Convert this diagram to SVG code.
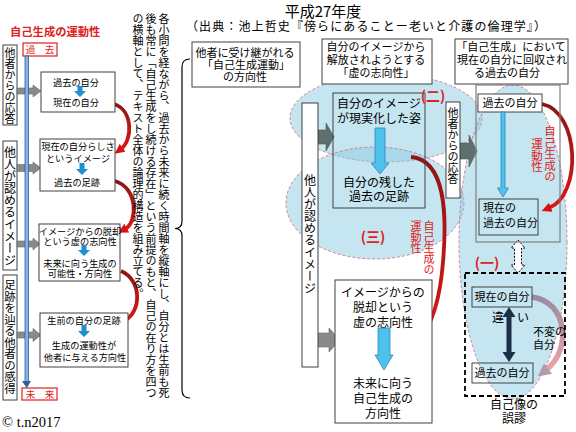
<svg xmlns="http://www.w3.org/2000/svg" width="576" height="432" viewBox="0 0 576 432">
<style>
.t{font-family:'Noto Sans CJK JP','Noto Sans CJK SC',sans-serif;fill:#000}
.v{writing-mode:vertical-rl}
.m{text-anchor:middle}
.red{fill:#e02020}
.box{fill:#fff;stroke:#404040;stroke-width:1}
.nb{fill:none;stroke:#404040;stroke-width:1}
.ell{fill:#8ccbe4;fill-opacity:0.5;stroke:#d07585;stroke-width:0.9;stroke-dasharray:3 2}
.ga{fill:#8a8a8a;stroke:#6a6a6a;stroke-width:0.6}
.gd{fill:#5f6f70;stroke:#4a5858;stroke-width:0.6}
.ba{fill:#1f8fd0}
.bb{fill:#4fc1ec;stroke:#2a88c0;stroke-width:0.8}
.rarc{fill:none;stroke:url(#rg);stroke-width:3.8}
</style>
<defs>
<linearGradient id="rg" x1="0" y1="0" x2="0" y2="1">
<stop offset="0" stop-color="#8e1515"/>
<stop offset="1" stop-color="#e01515"/>
</linearGradient>
<linearGradient id="pg" x1="0" y1="0" x2="0" y2="1">
<stop offset="0" stop-color="#9a8a9e"/>
<stop offset="1" stop-color="#f2a2aa"/>
</linearGradient>
<marker id="mr" viewBox="0 0 10 10" refX="2" refY="5" markerWidth="2.6" markerHeight="2.6" orient="auto">
<path d="M0,0 L10,5 L0,10 z" fill="#d81212"/>
</marker>
<marker id="mp" viewBox="0 0 10 10" refX="2" refY="5" markerWidth="2.4" markerHeight="2.4" orient="auto">
<path d="M0,0 L10,5 L0,10 z" fill="#b59aab"/>
</marker>
</defs>
<rect width="576" height="432" fill="#fff"/>

<g id="ellipses">
<ellipse class="ell" cx="386" cy="118" rx="96" ry="44"/>
<ellipse class="ell" cx="375" cy="203" rx="89" ry="56"/>
<ellipse class="ell" cx="513" cy="242" rx="54" ry="157"/>
</g>

<g id="left-title">
<text class="t red" x="10" y="36.3" font-size="11.3" font-weight="bold">自己生成の運動性</text>
<rect x="23" y="43" width="34" height="13" fill="#fff" stroke="#e02020" stroke-width="1.2"/>
<text class="t red m" x="40" y="53" font-size="9.5">過　去</text>
<rect x="22" y="388" width="35" height="12" fill="#fff" stroke="#e02020" stroke-width="1.2"/>
<text class="t red m" x="40" y="397.5" font-size="9.5">未　来</text>
</g>

<g id="left-labels">
<rect class="box" x="3" y="45" width="14" height="80"/>
<text class="t v" x="10" y="47" font-size="11">他者からの応答</text>
<rect class="box" x="3" y="141" width="14" height="129"/>
<text class="t v" x="10" y="146" font-size="12">他人が認めるイメージ</text>
<rect class="box" x="3" y="275" width="14" height="125"/>
<text class="t v" x="10" y="279" font-size="11.5">足跡を辿る他者の感得</text>
</g>

<g id="connectors">
<polygon class="ga" points="17,88 33,88 33,85 41,91 33,97 33,94 17,94"/>
<polygon class="ga" points="17,164.5 33,164.5 33,162 41,168 33,174 33,171.5 17,171.5"/>
<polygon class="ga" points="17,241 33,241 33,238 40,244 33,250 33,247 17,247"/>
<polygon class="ga" points="17,332 33,332 33,328.5 41,335 33,341.5 33,338 17,338"/>
<rect x="25" y="56" width="3.5" height="326" fill="#86b4e0" stroke="#2f5f9f" stroke-width="0.8"/>
<polygon points="22,381 31,381 26.7,388" fill="#2f5f9f"/>
<path class="rarc" d="M114,104 C133,110 133,140 121,149" marker-end="url(#mr)"/>
<path class="rarc" d="M115,181 C138,188 138,222 125,229" marker-end="url(#mr)"/>
<path class="rarc" d="M121,271 C142,280 142,312 124,321" marker-end="url(#mr)"/>
<path d="M190,59 Q182,59 182,67 L182,221 Q182,228.5 175,228.5 Q182,228.5 182,236 L182,390 Q182,398 190,398" fill="none" stroke="#000" stroke-width="1.2"/>
<polygon class="gd" points="318,130 326,130 326,123 334,137 326,151 326,144 318,144"/>
<polygon class="ga" points="318,333 329,333 329,328 340,340 329,352 329,347 318,347"/>
<polygon class="gd" points="460,143 469,143 469,135 477,151 469,167 469,159 460,159"/>
<path class="rarc" d="M411,157 C446,160 447,215 443,262 C440,300 432,324 420,339" stroke-width="5" marker-end="url(#mr)"/>
<path class="rarc" d="M542,104 C580,112 582,195 549,208" stroke-width="5" marker-end="url(#mr)"/>
<path d="M532,297 C568,302 572,350 546,370" fill="none" stroke="url(#pg)" stroke-width="5.5" marker-end="url(#mp)"/>
<polygon points="518,240 525,248 521.5,248 521.5,265 525,265 518,273 511,265 514.5,265 514.5,248 511,248" fill="#fff" stroke="#000" stroke-width="1" stroke-dasharray="2 1.5"/>
</g>

<g id="box-l1">
<rect class="box" x="41" y="72" width="74" height="40"/>
<text class="t m" x="76" y="85.5" font-size="9.2">過去の自分</text>
<polygon class="ba" points="77.5,86 82.5,86 82.5,91 86,91 80,97 74,91 77.5,91"/>
<text class="t m" x="76" y="105.5" font-size="9.2">現在の自分</text>
</g>
<g id="box-l2">
<rect class="box" x="40" y="139" width="75" height="52"/>
<text class="t m" x="78" y="149.5" font-size="9.2">現在の自分らしさ</text>
<text class="t m" x="78" y="161.5" font-size="9.2">というイメージ</text>
<polygon class="ba" points="79.5,163 84.5,163 84.5,169 88,169 82,175 76,169 79.5,169"/>
<text class="t m" x="77" y="185.5" font-size="9.2">過去の足跡</text>
</g>
<g id="box-l3">
<rect class="box" x="39" y="224" width="81" height="57"/>
<text class="t m" x="80" y="234.5" font-size="9.2">イメージからの脱却</text>
<text class="t m" x="80" y="244.5" font-size="9.2">という虚の志向性</text>
<polygon class="ba" points="81.5,245 86.5,245 86.5,250 90,250 84,256 78,250 81.5,250"/>
<text class="t m" x="80" y="266.5" font-size="9.2">未来に向う生成の</text>
<text class="t m" x="80" y="276.5" font-size="9.2">可能性・方向性</text>
</g>
<g id="box-l4">
<rect class="box" x="40" y="313" width="88" height="54"/>
<text class="t m" x="84" y="323.5" font-size="9.2">生前の自分の足跡</text>
<polygon class="ba" points="81.5,325 86.5,325 86.5,331 90,331 84,337 78,331 81.5,331"/>
<text class="t m" x="84" y="348.5" font-size="9.2">生成の運動性が</text>
<text class="t m" x="85" y="360.5" font-size="9.2">他者に与える方向性</text>
</g>

<g id="note">
<text class="t v" x="164" y="13" font-size="11">各小問を経ながら、過去から未来に続く時間軸を縦軸にし、自分とは生前も死</text>
<text class="t v" x="151" y="13" font-size="11">後も常に「自己生成をし続ける存在」という前提のもと、自己の在り方を四つ</text>
<text class="t v" x="138" y="13" font-size="11">の横軸として、テキスト全体の論理的構造を組み立てる。</text>
</g>

<g id="copyright">
<text x="2" y="427" font-family="'Liberation Serif',serif" font-size="14.5">© t.n2017</text>
</g>

<g id="header">
<text class="t m" x="323" y="17.3" font-size="15">平成27年度</text>
<text class="t" x="186" y="30.5" font-size="12" textLength="360" lengthAdjust="spacing">（出典：池上哲史『傍らにあることー老いと介護の倫理学』）</text>
</g>

<g id="top-box1">
<rect class="box" x="192" y="42" width="108" height="45"/>
<text class="t m" x="245" y="57.2" font-size="11">他者に受け継がれる</text>
<text class="t m" x="246" y="69.2" font-size="11">「自己生成運動」</text>
<text class="t m" x="245" y="81.2" font-size="11">の方向性</text>
</g>
<g id="top-box2">
<rect class="box" x="322" y="39" width="110" height="45"/>
<text class="t m" x="376" y="51.2" font-size="11">自分のイメージから</text>
<text class="t m" x="376" y="64.2" font-size="11">解放されようとする</text>
<text class="t m" x="376" y="77.2" font-size="11">「虚の志向性」</text>
</g>
<g id="top-box3">
<rect class="box" x="455" y="39" width="113" height="45"/>
<text class="t m" x="511" y="51.2" font-size="11">「自己生成」において</text>
<text class="t m" x="512" y="64.2" font-size="11">現在の自分に回収され</text>
<text class="t m" x="507" y="77.2" font-size="11">る過去の自分</text>
</g>

<g id="mid-vbox">
<rect class="box" x="302" y="103" width="16" height="264"/>
<text class="t v" x="310" y="174" font-size="12">他人が認めるイメージ</text>
</g>
<g id="mid-boxA">
<rect class="nb" x="333" y="93" width="92" height="115"/>
<text class="t m" x="379" y="107.6" font-size="12">自分のイメージ</text>
<text class="t m" x="379" y="122.6" font-size="12">が現実化した姿</text>
<polygon class="bb" points="375,128 385,128 385,163 389,163 380,174 371,163 375,163"/>
<text class="t m" x="379" y="186.6" font-size="12">自分の残した</text>
<text class="t m" x="379" y="200.6" font-size="12">過去の足跡</text>
</g>
<g id="mid-boxB">
<rect class="box" x="335" y="280" width="97" height="143"/>
<text class="t m" x="383" y="296.6" font-size="12">イメージからの</text>
<text class="t m" x="383" y="311.6" font-size="12">脱却という</text>
<text class="t m" x="383" y="326.6" font-size="12">虚の志向性</text>
<polygon class="bb" points="378,328 390,328 390,355 393,355 384,370 375,355 378,355"/>
<text class="t m" x="383" y="387.6" font-size="12">未来に向う</text>
<text class="t m" x="383" y="402.6" font-size="12">自己生成の</text>
<text class="t m" x="383" y="417.6" font-size="12">方向性</text>
</g>
<g id="mid-vbox2">
<rect class="box" x="446" y="102" width="14" height="96"/>
<text class="t v" x="453" y="107" font-size="11">他者からの応答</text>
</g>
<g id="mid-red-label">
<text class="t v red" x="429" y="220" font-size="11">自己生成の</text>
<text class="t v red" x="416" y="220" font-size="11">運動性</text>
</g>
<g id="labels-num">
<text class="t red m" x="433" y="101" font-size="14" font-weight="bold">(二)</text>
<text class="t red m" x="373" y="242" font-size="14" font-weight="bold">(三)</text>
<text class="t red m" x="487" y="268" font-size="14" font-weight="bold">(一)</text>
</g>

<g id="right-outer">
<rect fill="none" stroke="#7f7f7f" stroke-width="1.2" x="476" y="85" width="84" height="157"/>
</g>
<g id="right-past">
<rect fill="#fff" stroke="#333" stroke-width="0.9" x="478" y="94" width="64" height="18"/>
<text class="t m" x="510" y="107.2" font-size="11">過去の自分</text>
</g>
<polygon class="bb" points="501,112 505,112 505,188 508.5,188 503,197 497.5,188 501,188"/>
<g id="right-present-past">
<rect fill="none" stroke="#333" stroke-width="0.9" x="479" y="199" width="59" height="36"/>
<text class="t" x="483" y="212.2" font-size="11">現在の</text>
<text class="t" x="483" y="227.2" font-size="11">過去の自分</text>
</g>
<g id="right-red-label">
<text class="t v red" x="550" y="125" font-size="11.5">自己生成の</text>
<text class="t v red" x="537" y="138" font-size="11.5">運動性</text>
</g>

<g id="error-box">
<rect fill="none" stroke="#000" stroke-width="1.8" stroke-dasharray="5 3" x="465" y="273" width="100" height="123"/>
<rect fill="none" stroke="#333" stroke-width="0.9" x="472" y="287" width="60" height="20"/>
<text class="t m" x="502" y="301.2" font-size="11">現在の自分</text>
<rect fill="none" stroke="#333" stroke-width="0.9" x="472" y="363" width="61" height="20"/>
<text class="t m" x="502" y="377.2" font-size="11">過去の自分</text>
<polygon points="509,307 515.5,317 511.5,317 511.5,352 515.5,352 509,362 502.5,352 506.5,352 506.5,317 502.5,317" fill="#1b2f47"/>
<text class="t m" x="498" y="321.5" font-size="12">違</text>
<text class="t m" x="523" y="321.5" font-size="12">い</text>
<text class="t" x="533" y="336.2" font-size="11">不変の</text>
<text class="t" x="533" y="349.2" font-size="11">自分</text>
<text class="t m" x="514" y="408.6" font-size="12">自己像の</text>
<text class="t m" x="514" y="422.6" font-size="12">誤謬</text>
</g>
</svg>
